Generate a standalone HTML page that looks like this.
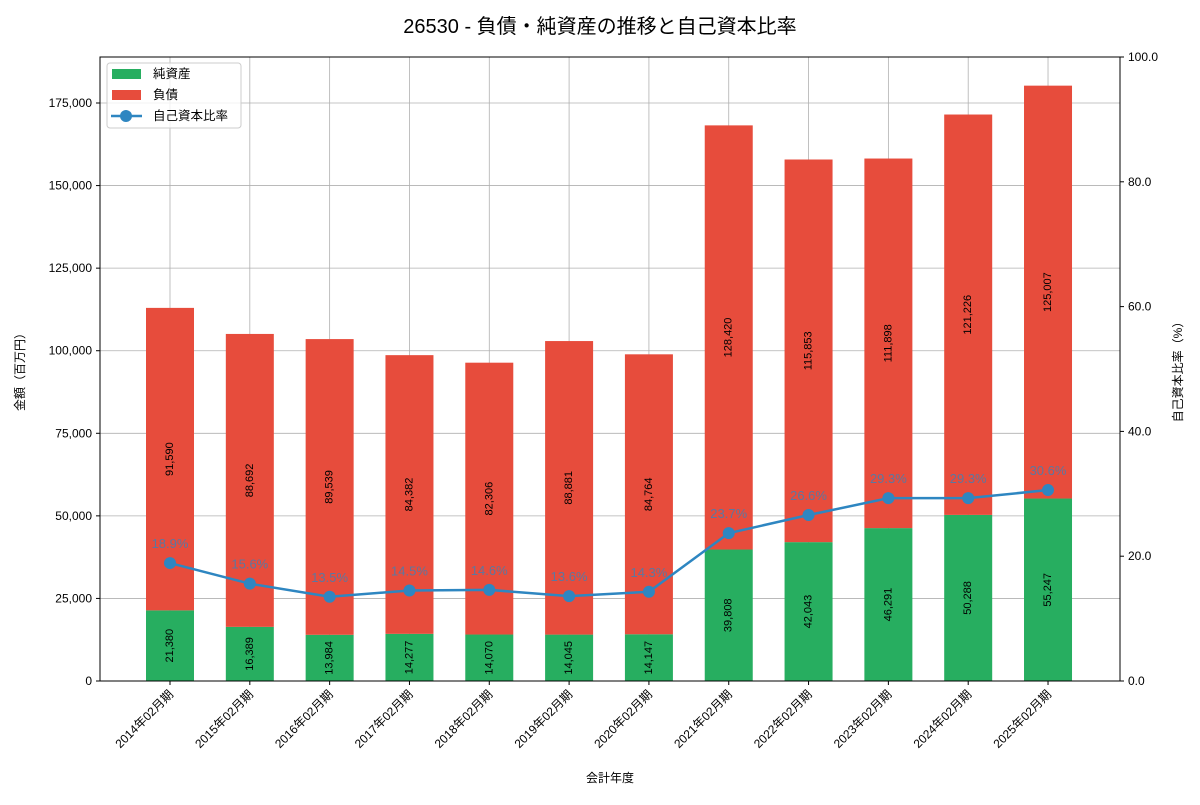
<!DOCTYPE html>
<html><head><meta charset="utf-8"><style>
body{margin:0;background:#fff;font-family:"Liberation Sans","Noto Sans CJK JP",sans-serif}
svg text{font-family:"Liberation Sans","Noto Sans CJK JP",sans-serif}
</style></head><body>
<svg id="c" width="1200" height="800" xmlns="http://www.w3.org/2000/svg">
<text x="600" y="33" font-size="20" text-anchor="middle" fill="#000">26530 - 負債・純資産の推移と自己資本比率</text>
<g id="grid"></g><g id="bars"></g><g id="line"></g><g id="axes"></g>
<g>
<rect x="107" y="63" width="134" height="65" rx="3" fill="#fff" fill-opacity="0.8" stroke="#ccc"/>
<rect x="112" y="69" width="29" height="10" fill="#27ae60"/>
<text x="153" y="78" font-size="12.5">純資産</text>
<rect x="112" y="90" width="29" height="10" fill="#e74c3c"/>
<text x="153" y="99" font-size="12.5">負債</text>
<line x1="111" y1="116" x2="142" y2="116" stroke="#2e86c1" stroke-width="2.5"/>
<circle cx="126" cy="116" r="6" fill="#2e86c1"/>
<text x="153" y="120" font-size="12.5">自己資本比率</text>
</g>
</svg>
<script>
const categories=["2014年02月期","2015年02月期","2016年02月期","2017年02月期","2018年02月期","2019年02月期","2020年02月期","2021年02月期","2022年02月期","2023年02月期","2024年02月期","2025年02月期"];
const equity=[21380,16389,13984,14277,14070,14045,14147,39808,42043,46291,50288,55247];
const liabilities=[91590,88692,89539,84382,82306,88881,84764,128420,115853,111898,121226,125007];
const ratio=[18.9,15.6,13.5,14.5,14.6,13.6,14.3,23.7,26.6,29.3,29.3,30.6];
const leftTicks=[0,25000,50000,75000,100000,125000,150000,175000];
const rightTicks=[0,20,40,60,80,100];
const NS="http://www.w3.org/2000/svg";
const L=100,R=1120,T=57,B=681,yMax=188930;
const x=i=>170+i*79.82;
const y=v=>B-v/yMax*(B-T);
const yr=v=>B-v/100*(B-T);
function mk(p,t,a){const e=document.createElementNS(NS,t);for(const k in a)e.setAttribute(k,a[k]);document.getElementById(p).appendChild(e);return e;}
const fmt=v=>v.toLocaleString("en-US");
leftTicks.forEach(v=>{const g=mk("grid","line",{x1:L,x2:R,y1:y(v),y2:y(v),stroke:"#b0b0b0","stroke-width":0.8});


const t=mk("axes","text",{x:L-8,y:y(v)+4,"font-size":12,"text-anchor":"end"});t.textContent=fmt(v);


mk("axes","line",{x1:L-4,x2:L,y1:y(v),y2:y(v),stroke:"#000"});});
rightTicks.forEach(v=>{const t=mk("axes","text",{x:R+8,y:yr(v)+4,"font-size":12});t.textContent=v.toFixed(1);


mk("axes","line",{x1:R,x2:R+4,y1:yr(v),y2:yr(v),stroke:"#000"});});
categories.forEach((c,i)=>{const cx=x(i);
const g=mk("grid","line",{x1:cx,x2:cx,y1:T,y2:B,stroke:"#b0b0b0","stroke-width":0.8});


const e=mk("bars","rect",{x:cx-24,width:48,y:y(equity[i]),height:B-y(equity[i]),fill:"#27ae60"});


const top=equity[i]+liabilities[i];
const l=mk("bars","rect",{x:cx-24,width:48,y:y(top),height:y(equity[i])-y(top),fill:"#e74c3c"});


const ym=(y(equity[i])+B)/2;
const te=mk("bars","text",{x:cx,y:ym,"font-size":11,"text-anchor":"middle","dominant-baseline":"central",transform:`rotate(-90 ${cx} ${ym})`});te.textContent=fmt(equity[i]);


const yl=(y(top)+y(equity[i]))/2;
const tl=mk("bars","text",{x:cx,y:yl,"font-size":11,"text-anchor":"middle","dominant-baseline":"central",transform:`rotate(-90 ${cx} ${yl})`});tl.textContent=fmt(liabilities[i]);


mk("axes","line",{x1:cx,x2:cx,y1:B,y2:B+4,stroke:"#000"});
const xl=mk("axes","text",{x:cx+4,y:B+14,"font-size":12,"text-anchor":"end",transform:`rotate(-45 ${cx+4} ${B+14})`});xl.textContent=c;


});
const pl=mk("line","polyline",{points:ratio.map((r,i)=>x(i)+","+yr(r)).join(" "),fill:"none",stroke:"#2e86c1","stroke-width":2.5});


ratio.forEach((r,i)=>{const c=mk("line","circle",{cx:x(i),cy:yr(r),r:6,fill:"#2e86c1"});


const t=mk("line","text",{x:x(i),y:yr(r)-15,"font-size":13,"text-anchor":"middle",fill:"#2e86c1","fill-opacity":0.75});t.textContent=r.toFixed(1)+"%";


});
mk("axes","rect",{x:L,y:T,width:R-L,height:B-T,fill:"none",stroke:"#000","stroke-width":1});
const a1=mk("axes","text",{x:24,y:369,"font-size":12,"text-anchor":"middle",transform:"rotate(-90 24 369)"});a1.textContent="金額（百万円）";


const a2=mk("axes","text",{x:1182,y:369,"font-size":12,"text-anchor":"middle",transform:"rotate(-90 1182 369)"});a2.textContent="自己資本比率（%）";


const a3=mk("axes","text",{x:610,y:782,"font-size":12,"text-anchor":"middle"});a3.textContent="会計年度";


</script>
</body></html>
